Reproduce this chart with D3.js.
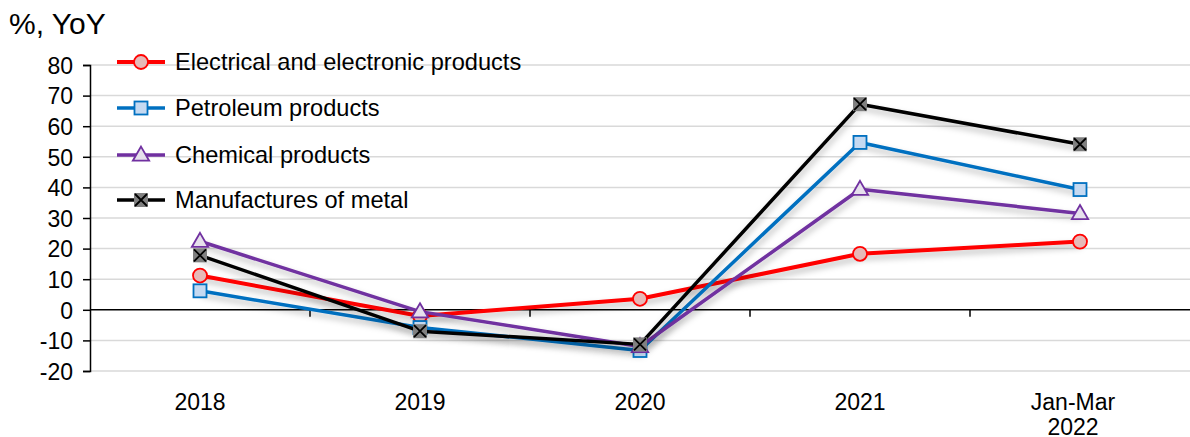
<!DOCTYPE html>
<html><head><meta charset="utf-8">
<script src="https://cdn.jsdelivr.net/npm/d3@7"></script>
<style>body{margin:0;background:#fff}svg{display:block;font-family:"Liberation Sans",Arial,sans-serif}</style>
</head><body>
<svg id="chart" width="1190" height="437"></svg>
<script>
const categories = ["2018", "2019", "2020", "2021", "Jan-Mar\n2022"];
const electrical = [11.2, -2.0, 3.6, 18.3, 22.3];
const petroleum = [6.2, -5.8, -13.3, 54.7, 39.3];
const chemical = [22.4, -0.6, -12.0, 39.4, 31.5];
const metal = [17.8, -7.0, -11.3, 67.2, 54.1];
const yTicks = [-20, -10, 0, 10, 20, 30, 40, 50, 60, 70, 80];
const seriesNames = ["Electrical and electronic products", "Petroleum products", "Chemical products", "Manufactures of metal"];

const series = [
  {name: seriesNames[0], values: electrical, color: "#ff0000", fill: "#e6b9b8", marker: "circle", w: 4},
  {name: seriesNames[1], values: petroleum, color: "#0070c0", fill: "#c5d9f1", marker: "square", w: 3.5},
  {name: seriesNames[2], values: chemical, color: "#7030a0", fill: "#e6e0ec", marker: "triangle", w: 3.5},
  {name: seriesNames[3], values: metal, color: "#000000", fill: "#808080", marker: "x", w: 3.5}
];

const FS = 23;
const svg = d3.select("#chart");
const defs = svg.append("defs");
const f = defs.append("filter").attr("id","shadow").attr("x","-10%").attr("y","-50%").attr("width","120%").attr("height","200%");
f.append("feDropShadow").attr("dx",1).attr("dy",4).attr("stdDeviation",3).attr("flood-color","#000").attr("flood-opacity",0.28);

const x = d3.scaleBand().domain(categories).range([90, 1190]);
const y = d3.scaleLinear().domain([-20, 80]).range([371, 65]);

// gridlines
svg.append("g").selectAll("line").data(yTicks.filter(t => t !== 0)).join("line")
  .attr("x1", 90).attr("x2", 1190).attr("y1", d => y(d)).attr("y2", d => y(d))
  .attr("stroke", "#d9d9d9").attr("stroke-width", 1.5);

// y axis
const yAxis = svg.append("g").attr("transform", "translate(90,0)")
  .call(d3.axisLeft(y).tickValues(yTicks).tickFormat(d => String(d)).tickSize(7).tickPadding(10));
yAxis.select(".domain").attr("stroke", "#000").attr("stroke-width", 1.5);
yAxis.selectAll(".tick line").attr("stroke", "#000").attr("stroke-width", 1.5);
yAxis.selectAll("text").attr("font-size", FS).attr("fill", "#000").attr("font-family", "Liberation Sans, Arial, sans-serif")
  .attr("dy", "0.36em");

// zero axis with ticks at category boundaries
svg.append("line").attr("x1", 90).attr("x2", 1190).attr("y1", y(0)).attr("y2", y(0))
  .attr("stroke", "#000").attr("stroke-width", 1.6);
svg.append("g").selectAll("line").data(categories.slice(1)).join("line")
  .attr("x1", d => x(d)).attr("x2", d => x(d)).attr("y1", y(0)).attr("y2", y(0) + 7)
  .attr("stroke", "#000").attr("stroke-width", 1.5);

// category labels
const cl = svg.append("g").selectAll("text").data(categories).join("text")
  .attr("x", d => x(d) + x.bandwidth() / 2 - (d.includes("\n") ? 7 : 0))
  .attr("y", 410).attr("text-anchor", "middle").attr("font-size", FS).attr("fill", "#000");
cl.each(function(d) {
  const parts = d.split("\n");
  d3.select(this).selectAll("tspan").data(parts).join("tspan")
    .attr("x", d3.select(this).attr("x")).attr("dy", (p, i) => i === 0 ? 0 : 25).text(p => p);
});

// unit label
svg.append("text").attr("x", 9).attr("y", 34).attr("font-size", 30).attr("fill", "#000").text("%, YoY");

const cx = d => x(d) + x.bandwidth() / 2;
const line = d3.line().x((v, i) => cx(categories[i])).y(v => y(v));

function drawMarker(g, type, s, px, py) {
  if (type === "circle") {
    g.append("circle").attr("cx", px).attr("cy", py).attr("r", 7).attr("fill", s.fill).attr("stroke", s.color).attr("stroke-width", 1.8);
  } else if (type === "square") {
    g.append("rect").attr("x", px - 6.5).attr("y", py - 6.5).attr("width", 13).attr("height", 13).attr("fill", s.fill).attr("stroke", s.color).attr("stroke-width", 1.8);
  } else if (type === "triangle") {
    g.append("path").attr("d", d3.symbol().type(d3.symbolTriangle).size(115)()).attr("transform", `translate(${px},${py+1})`)
      .attr("fill", s.fill).attr("stroke", s.color).attr("stroke-width", 1.8);
  } else {
    g.append("rect").attr("x", px - 7).attr("y", py - 7).attr("width", 14).attr("height", 14).attr("fill", s.fill);
    g.append("path").attr("d", `M${px-6},${py-6}L${px+6},${py+6}M${px+6},${py-6}L${px-6},${py+6}`).attr("stroke", "#000").attr("stroke-width", 1.8);
  }
}

series.forEach(s => {
  const g = svg.append("g");
  g.append("path").attr("d", line(s.values)).attr("fill", "none").attr("stroke", s.color).attr("stroke-width", s.w)
    .attr("stroke-linejoin", "round").attr("filter", "url(#shadow)");
  s.values.forEach((v, i) => drawMarker(g, s.marker, s, cx(categories[i]), y(v)));
});

// legend
const legendY = [62, 108, 155, 200];
series.forEach((s, i) => {
  const g = svg.append("g");
  const ly = legendY[i];
  g.append("line").attr("x1", 117).attr("x2", 165).attr("y1", ly).attr("y2", ly).attr("stroke", s.color).attr("stroke-width", s.w);
  drawMarker(g, s.marker, s, 141, ly);
  g.append("text").attr("x", 175).attr("y", ly + 8).attr("font-size", 23.6).attr("fill", "#000").text(s.name);
});
</script>
</body></html>
